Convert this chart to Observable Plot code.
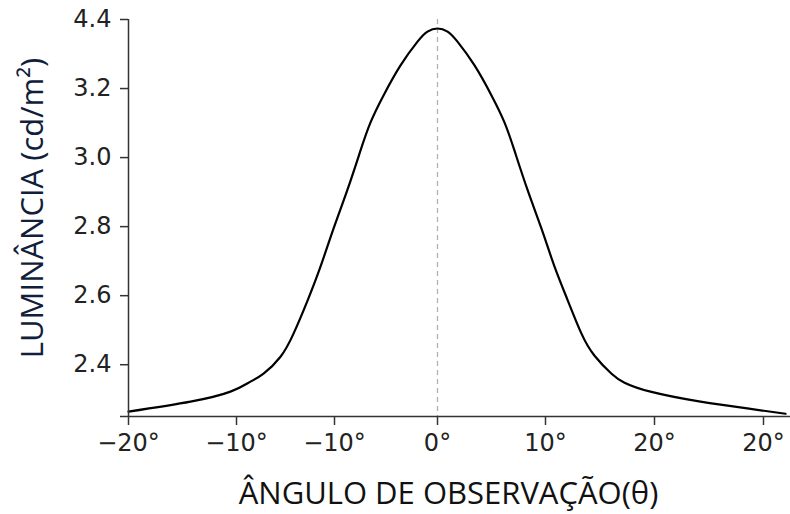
<!DOCTYPE html>
<html>
<head>
<meta charset="utf-8">
<script src="https://cdn.jsdelivr.net/npm/d3@7"></script>
<script src="https://cdn.jsdelivr.net/npm/@observablehq/plot@0.6"></script>
<style>
  html, body { margin: 0; padding: 0; background: #fff; }
</style>
</head>
<body>
<div id="chart"></div>
<script>
const angles = [-30, -24.26, -20.56, -18.57, -17.24, -15.51, -14.18, -12.76, -11.43, -10.10, -8.74, -7.48, -6.50, -5.24, -3.59, -1.94, -0.97, 0,
                0.93, 1.85, 3.43, 5.00, 6.20, 7.13, 8.33, 9.63, 10.83, 12.02, 13.30, 14.50, 16.06, 17.25, 19.63, 24.22, 28.81, 32.04];
const luminance = [2.264, 2.293, 2.322, 2.351, 2.374, 2.423, 2.490, 2.585, 2.684, 2.794, 2.907, 3.020, 3.102, 3.180, 3.267, 3.336, 3.365, 3.374,
                   3.365, 3.336, 3.267, 3.180, 3.102, 3.020, 2.907, 2.794, 2.684, 2.588, 2.490, 2.426, 2.374, 2.348, 2.322, 2.293, 2.272, 2.258];

// Tick values and their printed labels (as shown in the original figure)
const xTickValues = [-30, -20, -10, 0, 10, 20, 30];
const xTickLabels = ["−20°", "−10°", "−10°", "0°", "10°", "20°", "20°"];
const yTickValues = [2.25, 2.4, 2.6, 2.8, 3.0, 3.2, 3.4];
const yTickLabels = ["", "2.4", "2.6", "2.8", "3.0", "3.2", "4.4"];

const xTitle = "ÂNGULO DE OBSERVAÇÃO(θ)";
const yTitle = "LUMINÂNCIA (cd/m²)";

const data = angles.map((a, i) => ({angle: a, lum: luminance[i]}));
const xLabelOf = new Map(xTickValues.map((v, i) => [v, xTickLabels[i]]));
const yLabelOf = new Map(yTickValues.map((v, i) => [v, yTickLabels[i]]));

const chart = Plot.plot({
  width: 790,
  height: 514,
  marginLeft: 128,
  marginRight: 0,
  marginTop: 19,
  marginBottom: 98,
  style: {background: "#fff", overflow: "visible"},
  x: {
    type: "linear",
    domain: [-30, -20, -10, 0, 10, 20, 30, 32.5],
    range: [128, 236, 334, 437, 545, 654, 763, 790]
  },
  y: {domain: [2.25, 3.4]},
  marks: [
    Plot.ruleX([0], {stroke: "#b0b0b0", strokeWidth: 1.3, strokeDasharray: "5,4"}),
    Plot.line(data, {x: "angle", y: "lum", stroke: "#000", strokeWidth: 2.2, curve: "natural"}),
    Plot.ruleY([2.25], {stroke: "#333", strokeWidth: 1.5}),
    Plot.ruleX([-30], {stroke: "#333", strokeWidth: 1.5}),
    Plot.axisX({
      ticks: xTickValues,
      tickFormat: d => xLabelOf.get(d),
      tickSize: 9,
      tickPadding: 8,
      fontSize: 24,
      fontFamily: "DejaVu Sans",
      fill: "#222",
      stroke: "#333",
      strokeWidth: 1.5,
      label: null
    }),
    Plot.axisY({
      ticks: yTickValues,
      tickFormat: d => yLabelOf.get(d),
      tickSize: 8,
      tickPadding: 9,
      fontSize: 24,
      fontFamily: "DejaVu Sans",
      fill: "#222",
      stroke: "#333",
      strokeWidth: 1.5,
      label: null
    }),
    Plot.text([xTitle], {
      frameAnchor: "bottom", textAnchor: "middle", lineAnchor: "middle", dx: -11, dy: 78,
      fontSize: 31, fontFamily: "Open Sans", fill: "#111"
    }),
    Plot.text([yTitle], {
      frameAnchor: "left", textAnchor: "middle", lineAnchor: "middle", rotate: -90, dx: -95, dy: -10,
      fontSize: 31, fontFamily: "Open Sans", fill: "#10203a"
    })
  ]
});

document.getElementById("chart").appendChild(chart);
</script>
</body>
</html>
